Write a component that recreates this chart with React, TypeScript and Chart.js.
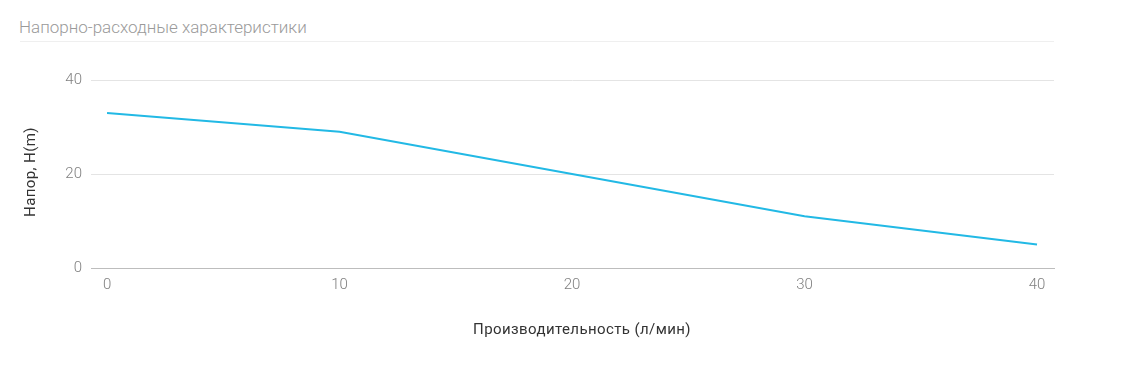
import React, { useEffect, useRef } from "react";
import { Chart, registerables } from "chart.js";

Chart.register(...registerables);

const chartTitle = "Напорно-расходные характеристики";
const xAxisTitle = "Производительность (л/мин)";
const yAxisTitle = "Напор, H(m)";
const flowValues = [0, 10, 20, 30, 40];
const headValues = [33, 29, 20, 11, 5];
const xTicks = [0, 10, 20, 30, 40];
const yTicks = [0, 20, 40];

const W = 1146;
const H = 369;

const axisTitlesPlugin = {
  id: "axisTitles",
  afterDraw(chart: any) {
    const { ctx, chartArea } = chart;
    ctx.save();
    ctx.fillStyle = "#333333";
    ctx.font = "400 15px Roboto";
    try {
      (ctx as any).letterSpacing = "0.4px";
    } catch (e) {}
    ctx.textAlign = "center";
    ctx.textBaseline = "middle";
    ctx.fillText(xAxisTitle, 582, 330);
    ctx.translate(31, (chartArea.top + chartArea.bottom) / 2 - 2);
    ctx.rotate(-Math.PI / 2);
    ctx.fillText(yAxisTitle, 0, 0);
    ctx.restore();
  },
};

export default function App() {
  const ref = useRef<HTMLCanvasElement | null>(null);
  useEffect(() => {
    if (!ref.current) return;
    const chart = new Chart(ref.current, {
      type: "line",
      data: {
        datasets: [
          {
            data: flowValues.map((x, i) => ({ x, y: headValues[i] })),
            borderColor: "#22b9e5",
            backgroundColor: "#22b9e5",
            borderWidth: 2,
            pointRadius: 0,
            tension: 0,
          },
        ],
      },
      options: {
        animation: false,
        responsive: false,
        maintainAspectRatio: false,
        layout: { padding: { top: 80, right: 92, left: 0, bottom: 0 } },
        plugins: { legend: { display: false }, tooltip: { enabled: false }, title: { display: false } },
        scales: {
          x: {
            type: "linear",
            min: -0.69,
            max: 40.73,
            afterBuildTicks: (s: any) => {
              s.ticks = xTicks.map((v) => ({ value: v }));
            },
            afterFit: (s: any) => {
              s.height = 101;
            },
            grid: { display: false, drawTicks: false },
            border: { display: true, color: "#bdbdbd", width: 1 },
            ticks: { color: "#808080", font: { family: "Roboto", size: 15, weight: "300" }, padding: 8, maxRotation: 0 },
          },
          y: {
            min: 0,
            max: 40,
            afterBuildTicks: (s: any) => {
              s.ticks = yTicks.map((v) => ({ value: v }));
            },
            afterFit: (s: any) => {
              s.width = 91;
            },
            grid: { color: "#e4e4e4", drawTicks: false, lineWidth: 1 },
            border: { display: false },
            ticks: { color: "#808080", font: { family: "Roboto", size: 15, weight: "300" }, padding: 9 },
          },
        },
      },
      plugins: [axisTitlesPlugin],
    });
    return () => chart.destroy();
  }, []);

  return (
    <div style={{ position: "absolute", left: 0, top: 0, width: W, height: H, background: "#fff" }}>
      <div
        style={{
          position: "absolute",
          left: 19,
          top: 17,
          fontFamily: "Roboto",
          fontWeight: 300,
          fontSize: 17,
          color: "#9a9a9a",
          lineHeight: "20px",
          whiteSpace: "nowrap",
        }}
      >
        {chartTitle}
      </div>
      <div style={{ position: "absolute", left: 20, top: 41, width: 1034, height: 1, background: "#efefef" }} />
      <canvas ref={ref} width={W} height={H} style={{ position: "absolute", left: 0, top: 0, width: W, height: H }} />
    </div>
  );
}
